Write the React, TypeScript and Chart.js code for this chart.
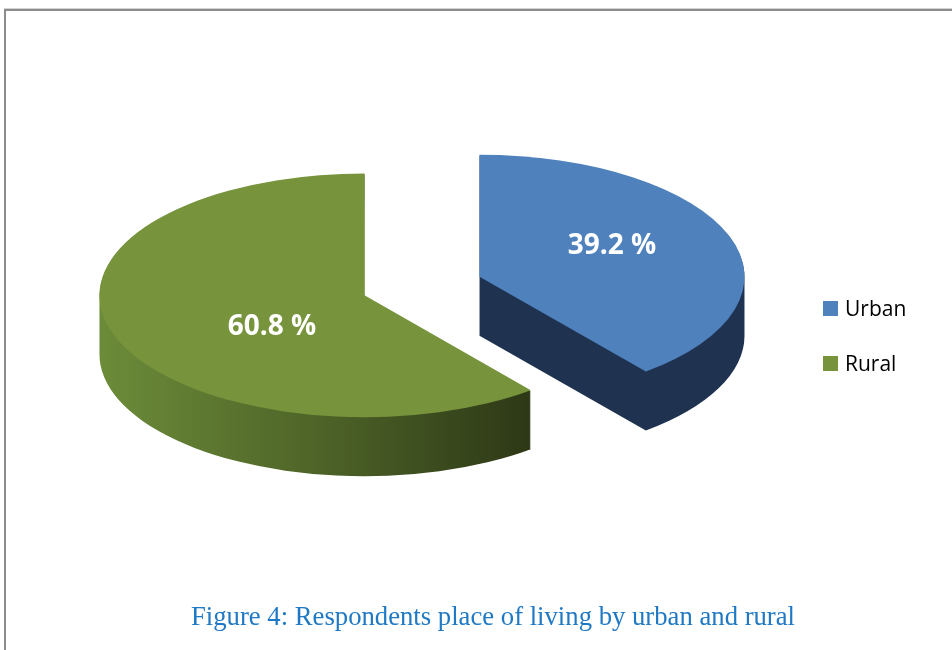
import React, { useEffect, useRef } from "react";
import { Chart, registerables } from "chart.js";

Chart.register(...registerables);

// ---- data ----
const categories = ["Urban", "Rural"];
const shares = [39.2, 60.8];
const topColors = ["#4F81BD", "#77933C"];
const sideColors = [
  ["#1F3350", "#1F3350", "#1F3350"],
  ["#6C8C39", "#4E6428", "#2D3816"],
];
const caption = "Figure 4: Respondents place of living by urban and rural";

const pie3d = {
  id: "pie3d",
  beforeDatasetsDraw(chart: any, _args: any, opts: any) {
    const ctx: CanvasRenderingContext2D = chart.ctx;
    const meta = chart.getDatasetMeta(0);
    const tilt = opts.tilt;
    const depth = opts.depth;
    const explode = opts.explode;
    const items = meta.data.map((arc: any, i: number) => {
      const p = arc.getProps(["x", "y", "startAngle", "endAngle", "outerRadius"], true);
      const mid = (p.startAngle + p.endAngle) / 2;
      return { arc, i, p, ox: Math.cos(mid) * explode, oy: Math.sin(mid) * explode };
    });
    items.sort((a: any, b: any) => a.oy - b.oy);
    for (const it of items) {
      const { x, y, startAngle, endAngle, outerRadius: R } = it.p;
      const cx = x + it.ox;
      const cy = y + it.oy;
      // side walls: stacked copies of the wedge
      ctx.save();
      ctx.beginPath();
      for (let d = depth; d >= 1; d--) {
        ctx.save();
        ctx.translate(0, d);
        ctx.translate(x, y);
        ctx.scale(1, tilt);
        ctx.translate(-x, -y);
        ctx.moveTo(cx, cy);
        ctx.arc(cx, cy, R, startAngle, endAngle);
        ctx.closePath();
        ctx.restore();
      }
      const cols = sideColors[it.i];
      const g = ctx.createLinearGradient(cx - R, 0, cx + R * Math.max(Math.cos(startAngle), Math.cos(endAngle), 0.1), 0);
      g.addColorStop(0, cols[0]);
      g.addColorStop(0.5, cols[1]);
      g.addColorStop(1, cols[2]);
      ctx.fillStyle = g;
      ctx.fill("nonzero");
      ctx.restore();
      // top face, drawn by the arc element itself
      ctx.save();
      ctx.translate(x, y);
      ctx.scale(1, tilt);
      ctx.translate(-x, -y);
      ctx.translate(it.ox, it.oy);
      it.arc.draw(ctx);
      ctx.restore();
    }
    return false;
  },
  afterDraw(chart: any, _args: any, opts: any) {
    const ctx: CanvasRenderingContext2D = chart.ctx;
    const meta = chart.getDatasetMeta(0);
    const ds = chart.data.datasets[0];
    const tilt = opts.tilt;
    const explode = opts.explode;
    // data labels
    ctx.save();
    ctx.font = "bold 28px 'Open Sans'";
    ctx.fillStyle = "#FFFFFF";
    ctx.textAlign = "center";
    ctx.textBaseline = "middle";
    meta.data.forEach((arc: any, i: number) => {
      const p = arc.getProps(["x", "y", "startAngle", "endAngle", "outerRadius"], true);
      const mid = (p.startAngle + p.endAngle) / 2;
      const f = opts.labelRadius[i];
      const ux = Math.cos(mid) * (explode + p.outerRadius * f);
      const uy = Math.sin(mid) * (explode + p.outerRadius * f);
      const lx = p.x + ux;
      const ly = p.y + uy * tilt + opts.labelDy[i];
      ctx.fillText(ds.data[i].toFixed(1) + " %", lx, ly);
    });
    ctx.restore();
    // legend
    ctx.save();
    const lg = opts.legend;
    ctx.font = "21px 'Open Sans'";
    ctx.textAlign = "left";
    ctx.textBaseline = "alphabetic";
    chart.data.labels.forEach((lab: string, i: number) => {
      const top = lg.y + i * lg.gap;
      ctx.fillStyle = ds.backgroundColor[i];
      ctx.fillRect(lg.x, top, lg.box, lg.box);
      ctx.fillStyle = "#000000";
      ctx.fillText(lab, lg.x + lg.box + 7, top + 14.5);
    });
    ctx.restore();
    // caption
    ctx.save();
    ctx.font = "26.7px 'Liberation Serif'";
    ctx.fillStyle = "#2079C4";
    ctx.textAlign = "center";
    ctx.textBaseline = "alphabetic";
    ctx.fillText(opts.caption, opts.captionX, opts.captionY);
    ctx.restore();
  },
};

export default function App() {
  const ref = useRef<HTMLCanvasElement>(null);
  useEffect(() => {
    const chart = new Chart(ref.current as HTMLCanvasElement, {
      type: "pie",
      data: {
        labels: categories,
        datasets: [
          {
            data: shares,
            backgroundColor: topColors,
            borderWidth: 0,
            radius: 265,
            clip: false,
          } as any,
        ],
      },
      options: {
        responsive: false,
        animation: false,
        events: [],
        layout: { padding: { left: 0, right: 108, top: 0, bottom: 78 } },
        plugins: {
          legend: { display: false },
          tooltip: { enabled: false },
          title: { display: false },
          pie3d: {
            tilt: 0.46,
            depth: 59,
            explode: 61,
            labelRadius: [0.53, 0.37],
            labelDy: [-9, 17],
            legend: { x: 823, y: 301, gap: 55, box: 15 },
            caption,
            captionX: 493,
            captionY: 625,
          },
        } as any,
      },
      plugins: [pie3d as any],
    });
    return () => chart.destroy();
  }, []);
  return (
    <div style={{ position: "fixed", left: 0, top: 0, width: 952, height: 650, background: "#FFFFFF", overflow: "hidden" }}>
      <canvas ref={ref} width={952} height={650} style={{ position: "absolute", left: 0, top: 0 }} />
      <div
        style={{
          position: "absolute",
          left: 4,
          top: 9,
          width: 960,
          height: 660,
          borderTop: "2px solid #8C8C8C",
          borderLeft: "2px solid #8C8C8C",
          boxShadow: "0 -1px 0 #D4D4D4",
          pointerEvents: "none",
        }}
      />
    </div>
  );
}
